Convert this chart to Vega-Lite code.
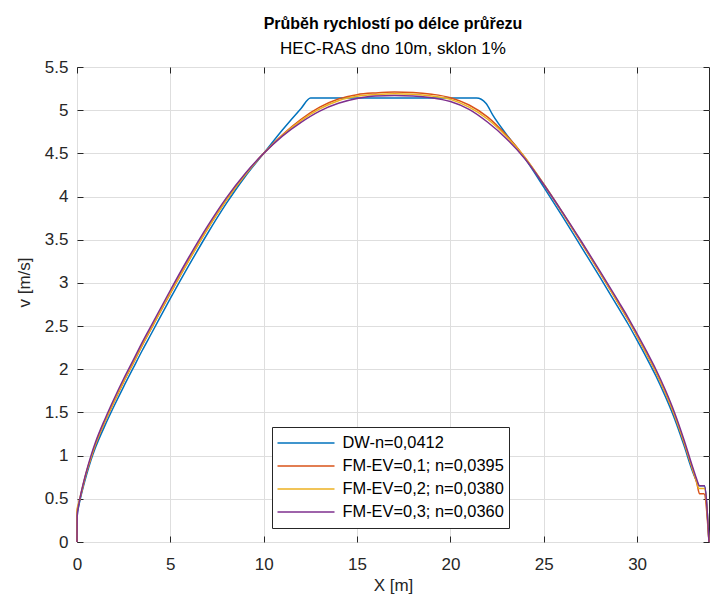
{
  "$schema": "https://vega.github.io/schema/vega-lite/v6.json",
  "width": 632,
  "height": 475,
  "autosize": {"type": "none"},
  "padding": {"left": 77, "top": 67, "right": 8, "bottom": 63},
  "background": "white",
  "title": {
    "text": "Průběh rychlostí po délce průřezu",
    "subtitle": "HEC-RAS dno 10m, sklon 1%",
    "font": "Liberation Sans",
    "fontSize": 16,
    "fontWeight": "bold",
    "color": "#000000",
    "subtitleFont": "Liberation Sans",
    "subtitleFontSize": 17,
    "subtitleColor": "#000000",
    "anchor": "middle",
    "offset": 1,
    "subtitlePadding": 9
  },
  "config": {
    "view": {"stroke": "#262626", "strokeWidth": 1},
    "axis": {
      "labelFont": "Liberation Sans",
      "labelFontSize": 17,
      "labelColor": "#262626",
      "labelFlush": false,
      "titleFont": "Liberation Sans",
      "titleFontSize": 17,
      "titleFontWeight": "normal",
      "titleColor": "#262626",
      "tickColor": "#262626",
      "tickSize": -6,
      "domain": false,
      "gridColor": "#dedede",
      "gridWidth": 1
    }
  },
  "datasets": {
    "dw": [
      {"x": 0, "v": 0}, {"x": 0.01, "v": 0.3}, {"x": 0.1, "v": 0.42}, {"x": 0.2, "v": 0.52}, {"x": 0.35, "v": 0.65},
      {"x": 0.5, "v": 0.77}, {"x": 0.75, "v": 0.95}, {"x": 1, "v": 1.1}, {"x": 1.5, "v": 1.35}, {"x": 2, "v": 1.58},
      {"x": 2.5, "v": 1.8}, {"x": 3, "v": 2.01}, {"x": 3.5, "v": 2.22}, {"x": 4, "v": 2.42}, {"x": 5, "v": 2.82},
      {"x": 6, "v": 3.205}, {"x": 7, "v": 3.575}, {"x": 8, "v": 3.92}, {"x": 9, "v": 4.23}, {"x": 10, "v": 4.5},
      {"x": 11, "v": 4.77}, {"x": 12, "v": 5.02}, {"x": 12.51, "v": 5.14}, {"x": 21.4, "v": 5.14}, {"x": 21.9, "v": 5.08},
      {"x": 22.28, "v": 4.94}, {"x": 23, "v": 4.72}, {"x": 24, "v": 4.44}, {"x": 25, "v": 4.11}, {"x": 26, "v": 3.77},
      {"x": 27, "v": 3.42}, {"x": 28, "v": 3.07}, {"x": 29, "v": 2.71}, {"x": 29.5, "v": 2.53}, {"x": 30, "v": 2.335},
      {"x": 30.5, "v": 2.135}, {"x": 31, "v": 1.925}, {"x": 31.5, "v": 1.69}, {"x": 32, "v": 1.43}, {"x": 32.5, "v": 1.125},
      {"x": 33, "v": 0.8}, {"x": 33.2, "v": 0.7}, {"x": 33.34, "v": 0.65}, {"x": 33.6, "v": 0.65}, {"x": 33.85, "v": 0}
    ],
    "ev1": [
      {"x": 0, "v": 0}, {"x": 0.01, "v": 0.36}, {"x": 0.1, "v": 0.45}, {"x": 0.2, "v": 0.54}, {"x": 0.35, "v": 0.675},
      {"x": 0.5, "v": 0.8}, {"x": 0.75, "v": 0.975}, {"x": 1, "v": 1.135}, {"x": 1.5, "v": 1.395}, {"x": 2, "v": 1.63},
      {"x": 2.5, "v": 1.855}, {"x": 3, "v": 2.065}, {"x": 3.5, "v": 2.28}, {"x": 4, "v": 2.48}, {"x": 5, "v": 2.88},
      {"x": 6, "v": 3.265}, {"x": 7, "v": 3.63}, {"x": 8, "v": 3.96}, {"x": 9, "v": 4.25}, {"x": 10, "v": 4.5},
      {"x": 11, "v": 4.715}, {"x": 12, "v": 4.895}, {"x": 13, "v": 5.035}, {"x": 14, "v": 5.13}, {"x": 15, "v": 5.18},
      {"x": 16, "v": 5.2}, {"x": 17, "v": 5.21}, {"x": 18, "v": 5.205}, {"x": 19, "v": 5.185}, {"x": 20, "v": 5.145},
      {"x": 21, "v": 5.06}, {"x": 22, "v": 4.92}, {"x": 23, "v": 4.71}, {"x": 24, "v": 4.45}, {"x": 25, "v": 4.14},
      {"x": 26, "v": 3.81}, {"x": 27, "v": 3.47}, {"x": 28, "v": 3.12}, {"x": 29, "v": 2.76}, {"x": 29.5, "v": 2.58},
      {"x": 30, "v": 2.385}, {"x": 30.5, "v": 2.18}, {"x": 31, "v": 1.97}, {"x": 31.5, "v": 1.735}, {"x": 32, "v": 1.47},
      {"x": 32.5, "v": 1.16}, {"x": 33, "v": 0.82}, {"x": 33.2, "v": 0.68}, {"x": 33.34, "v": 0.56}, {"x": 33.58, "v": 0.56},
      {"x": 33.85, "v": 0}
    ],
    "ev2": [
      {"x": 0, "v": 0}, {"x": 0.01, "v": 0.38}, {"x": 0.1, "v": 0.46}, {"x": 0.2, "v": 0.545}, {"x": 0.35, "v": 0.68},
      {"x": 0.5, "v": 0.805}, {"x": 0.75, "v": 0.98}, {"x": 1, "v": 1.14}, {"x": 1.5, "v": 1.4}, {"x": 2, "v": 1.635},
      {"x": 2.5, "v": 1.86}, {"x": 3, "v": 2.07}, {"x": 3.5, "v": 2.285}, {"x": 4, "v": 2.485}, {"x": 5, "v": 2.885},
      {"x": 6, "v": 3.265}, {"x": 7, "v": 3.63}, {"x": 8, "v": 3.96}, {"x": 9, "v": 4.25}, {"x": 10, "v": 4.5},
      {"x": 11, "v": 4.71}, {"x": 12, "v": 4.88}, {"x": 13, "v": 5.015}, {"x": 14, "v": 5.11}, {"x": 15, "v": 5.16},
      {"x": 16, "v": 5.18}, {"x": 17, "v": 5.19}, {"x": 18, "v": 5.185}, {"x": 19, "v": 5.165}, {"x": 20, "v": 5.125},
      {"x": 21, "v": 5.035}, {"x": 22, "v": 4.895}, {"x": 23, "v": 4.695}, {"x": 24, "v": 4.45}, {"x": 25, "v": 4.145},
      {"x": 26, "v": 3.815}, {"x": 27, "v": 3.475}, {"x": 28, "v": 3.125}, {"x": 29, "v": 2.765}, {"x": 29.5, "v": 2.585},
      {"x": 30, "v": 2.39}, {"x": 30.5, "v": 2.185}, {"x": 31, "v": 1.975}, {"x": 31.5, "v": 1.74}, {"x": 32, "v": 1.475},
      {"x": 32.5, "v": 1.165}, {"x": 33, "v": 0.825}, {"x": 33.2, "v": 0.69}, {"x": 33.3, "v": 0.62}, {"x": 33.6, "v": 0.62},
      {"x": 33.85, "v": 0}
    ],
    "ev3": [
      {"x": 0, "v": 0}, {"x": 0.01, "v": 0.3}, {"x": 0.1, "v": 0.44}, {"x": 0.2, "v": 0.55}, {"x": 0.35, "v": 0.69},
      {"x": 0.5, "v": 0.815}, {"x": 0.75, "v": 1.0}, {"x": 1, "v": 1.16}, {"x": 1.5, "v": 1.425}, {"x": 2, "v": 1.665},
      {"x": 2.5, "v": 1.89}, {"x": 3, "v": 2.1}, {"x": 3.5, "v": 2.315}, {"x": 4, "v": 2.515}, {"x": 5, "v": 2.915},
      {"x": 6, "v": 3.3}, {"x": 7, "v": 3.66}, {"x": 8, "v": 3.985}, {"x": 9, "v": 4.265}, {"x": 10, "v": 4.5},
      {"x": 11, "v": 4.7}, {"x": 12, "v": 4.86}, {"x": 13, "v": 4.99}, {"x": 14, "v": 5.08}, {"x": 15, "v": 5.135},
      {"x": 16, "v": 5.165}, {"x": 17, "v": 5.17}, {"x": 18, "v": 5.165}, {"x": 19, "v": 5.145}, {"x": 20, "v": 5.1},
      {"x": 21, "v": 5.01}, {"x": 22, "v": 4.86}, {"x": 23, "v": 4.67}, {"x": 24, "v": 4.435}, {"x": 25, "v": 4.14},
      {"x": 26, "v": 3.82}, {"x": 27, "v": 3.485}, {"x": 28, "v": 3.14}, {"x": 29, "v": 2.785}, {"x": 29.5, "v": 2.605},
      {"x": 30, "v": 2.41}, {"x": 30.5, "v": 2.21}, {"x": 31, "v": 2.0}, {"x": 31.5, "v": 1.765}, {"x": 32, "v": 1.5},
      {"x": 32.5, "v": 1.19}, {"x": 33, "v": 0.85}, {"x": 33.2, "v": 0.72}, {"x": 33.34, "v": 0.65}, {"x": 33.6, "v": 0.65},
      {"x": 33.85, "v": 0}
    ]
  },
  "layer": [
    {
      "data": {"name": "dw"},
      "mark": {"type": "line", "strokeWidth": 1.5, "interpolate": "monotone"},
      "encoding": {
        "x": {
          "field": "x", "type": "quantitative",
          "scale": {"domain": [0, 33.85], "nice": false, "zero": false},
          "axis": {
            "orient": "bottom", "values": [0, 5, 10, 15, 20, 25, 30], "format": "d", "grid": true,
            "labelPadding": 20, "title": "X [m]", "titleY": 35, "titleBaseline": "top"
          }
        },
        "y": {
          "field": "v", "type": "quantitative",
          "scale": {"domain": [0, 5.5], "nice": false},
          "axis": {
            "orient": "left", "values": [0, 0.5, 1, 1.5, 2, 2.5, 3, 3.5, 4, 4.5, 5, 5.5], "format": ".2~f",
            "grid": true, "labelPadding": 15, "title": "v [m/s]", "titleAngle": 270,
            "titleX": -44, "titleY": 215, "titleBaseline": "bottom"
          }
        },
        "color": {
          "datum": "DW-n=0,0412",
          "type": "nominal",
          "scale": {
            "domain": ["DW-n=0,0412", "FM-EV=0,1; n=0,0395", "FM-EV=0,2; n=0,0380", "FM-EV=0,3; n=0,0360"],
            "range": ["#0072BD", "#D95319", "#EDB120", "#7E2F8E"]
          },
          "legend": {
            "orient": "none",
            "legendX": 195,
            "legendY": 360,
            "title": null,
            "strokeColor": "#262626",
            "fillColor": "white",
            "padding": 4.5,
            "clipHeight": 23,
            "symbolType": "stroke",
            "symbolSize": 3249,
            "symbolStrokeWidth": 1.5,
            "labelFont": "Liberation Sans",
            "labelFontSize": 16.4,
            "labelLimit": 400,
            "labelColor": "#000000",
            "labelOffset": 7,
            "rowPadding": 0
          }
        }
      }
    },
    {
      "data": {"name": "ev1"},
      "mark": {"type": "line", "strokeWidth": 1.5, "interpolate": "monotone"},
      "encoding": {
        "x": {"field": "x", "type": "quantitative", "axis": null},
        "y": {"field": "v", "type": "quantitative", "axis": null},
        "color": {"datum": "FM-EV=0,1; n=0,0395", "type": "nominal"}
      }
    },
    {
      "data": {"name": "ev2"},
      "mark": {"type": "line", "strokeWidth": 1.5, "interpolate": "monotone"},
      "encoding": {
        "x": {"field": "x", "type": "quantitative", "axis": null},
        "y": {"field": "v", "type": "quantitative", "axis": null},
        "color": {"datum": "FM-EV=0,2; n=0,0380", "type": "nominal"}
      }
    },
    {
      "data": {"name": "ev3"},
      "mark": {"type": "line", "strokeWidth": 1.5, "interpolate": "monotone"},
      "encoding": {
        "x": {"field": "x", "type": "quantitative", "axis": null},
        "y": {"field": "v", "type": "quantitative", "axis": null},
        "color": {"datum": "FM-EV=0,3; n=0,0360", "type": "nominal"}
      }
    },
    {
      "data": {"name": "dw"},
      "mark": {"type": "line", "opacity": 0},
      "encoding": {
        "x": {
          "field": "x", "type": "quantitative",
          "axis": {"orient": "top", "values": [0, 5, 10, 15, 20, 25, 30], "labels": false, "grid": false, "title": null}
        },
        "y": {
          "field": "v", "type": "quantitative",
          "axis": {"orient": "right", "values": [0, 0.5, 1, 1.5, 2, 2.5, 3, 3.5, 4, 4.5, 5, 5.5], "labels": false, "grid": false, "title": null}
        }
      }
    }
  ],
  "resolve": {"axis": {"x": "independent", "y": "independent"}}
}
